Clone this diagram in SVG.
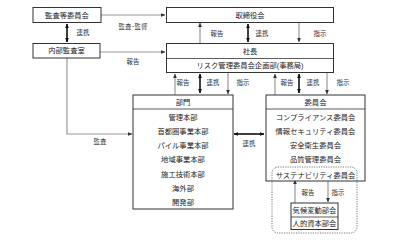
<svg xmlns="http://www.w3.org/2000/svg" width="399" height="245" viewBox="0 0 399 245">
<defs>
<marker id="ag" viewBox="0 0 6 6" refX="5.5" refY="3" markerWidth="4" markerHeight="4" orient="auto-start-reverse"><path d="M0,0.5 L6,3 L0,5.5 Z" fill="#333"/></marker>
<marker id="ab" viewBox="0 0 6 6" refX="5.5" refY="3" markerWidth="3" markerHeight="3" orient="auto-start-reverse"><path d="M0,0.5 L6,3 L0,5.5 Z" fill="#111"/></marker>
<style>
.box{fill:#fff;stroke:#333;stroke-width:1}
.div{stroke:#333;stroke-width:0.8}
.t{font-family:"Liberation Sans","Noto Sans CJK JP",sans-serif;font-size:7.3px;fill:#222;text-anchor:middle}
.l{font-family:"Liberation Sans","Noto Sans CJK JP",sans-serif;font-size:6.4px;fill:#333;text-anchor:middle}
.g{stroke:#999;stroke-width:1.2;fill:none}
.k{stroke:#111;stroke-width:1.6;fill:none}
</style>
</defs>
<rect width="399" height="245" fill="#fff"/>
<g id="connectors">
<path class="g" d="M101,15 H165" marker-end="url(#ag)"/>
<path class="k" d="M67,24 V42" marker-start="url(#ab)" marker-end="url(#ab)"/>
<path class="g" d="M100,52 H165" marker-end="url(#ag)"/>
<path class="g" d="M67,58 V134 H132" marker-end="url(#ag)"/>
<path class="g" d="M200,43 V23" marker-end="url(#ag)"/>
<path class="k" d="M248,24 V42" marker-start="url(#ab)" marker-end="url(#ab)"/>
<path class="g" d="M299,22 V42" marker-end="url(#ag)"/>
<path class="g" d="M175,95 V74" marker-end="url(#ag)"/>
<path class="k" d="M200,74 V93" marker-start="url(#ab)" marker-end="url(#ab)"/>
<path class="g" d="M228,72 V94" marker-end="url(#ag)"/>
<path class="g" d="M275,95 V74" marker-end="url(#ag)"/>
<path class="k" d="M299,74 V93" marker-start="url(#ab)" marker-end="url(#ab)"/>
<path class="g" d="M327,72 V94" marker-end="url(#ag)"/>
<path class="k" d="M234,134 H264" marker-start="url(#ab)" marker-end="url(#ab)"/>
<path class="g" d="M295,203 V180" marker-end="url(#ag)"/>
<path class="g" d="M328,179 V202" marker-end="url(#ag)"/>
<text class="l" x="133" y="29">監査･監督</text>
<text class="l" x="83" y="35">連携</text>
<text class="l" x="133" y="64">報告</text>
<text class="l" x="100" y="144">監査</text>
<text class="l" x="217" y="36">報告</text>
<text class="l" x="262" y="36">連携</text>
<text class="l" x="320" y="36">指示</text>
<text class="l" x="183" y="85">報告</text>
<text class="l" x="213" y="85">連携</text>
<text class="l" x="243" y="85">指示</text>
<text class="l" x="287" y="85">報告</text>
<text class="l" x="313" y="85">連携</text>
<text class="l" x="343" y="85">指示</text>
<text class="l" x="249" y="146">連携</text>
<text class="l" x="308" y="195">報告</text>
<text class="l" x="338" y="195">指示</text>
</g>
<g id="kansa-iinkai">
<rect class="box" x="33" y="7.5" width="68" height="15"/>
<text class="t" x="67" y="17.6">監査等委員会</text>
</g>
<g id="naibu-kansa">
<rect class="box" x="33" y="43.5" width="67" height="14.5"/>
<text class="t" x="66.5" y="53.4">内部監査室</text>
</g>
<g id="torishimariyakukai">
<rect class="box" x="166.5" y="7.5" width="167" height="15"/>
<text class="t" x="250" y="17.6">取締役会</text>
</g>
<g id="shacho">
<rect class="box" x="166.5" y="43.5" width="167" height="29"/>
<line class="div" x1="166.5" y1="58.5" x2="333.5" y2="58.5"/>
<text class="t" x="250" y="53.6">社長</text>
<text class="t" x="250" y="68">リスク管理委員会企画部(事務局)</text>
</g>
<g id="bumon">
<rect class="box" x="133" y="95" width="100" height="114"/>
<line class="div" x1="133" y1="109" x2="233" y2="109"/>
<text class="t" x="183" y="104.5">部門</text>
<text class="t" x="183" y="119.5">管理本部</text>
<text class="t" x="183" y="133.8">首都圏事業本部</text>
<text class="t" x="183" y="148">パイル事業本部</text>
<text class="t" x="183" y="162.2">地域事業本部</text>
<text class="t" x="183" y="176.5">施工技術本部</text>
<text class="t" x="183" y="190.8">海外部</text>
<text class="t" x="183" y="205">開発部</text>
</g>
<g id="iinkai">
<rect class="box" x="266" y="95" width="99" height="86"/>
<line class="div" x1="266" y1="109" x2="365" y2="109"/>
<text class="t" x="315.5" y="104.5">委員会</text>
<text class="t" x="315.5" y="119.5">コンプライアンス委員会</text>
<text class="t" x="315.5" y="133.8">情報セキュリティ委員会</text>
<text class="t" x="315.5" y="148">安全衛生委員会</text>
<text class="t" x="315.5" y="162.2">品質管理委員会</text>
</g>
<g id="sustainability">
<rect x="272" y="167" width="85" height="66" rx="6" fill="none" stroke="#555" stroke-width="0.8" stroke-dasharray="1.2,1.2"/>
<text class="t" x="315.5" y="177.5">サステナビリティ委員会</text>
</g>
<g id="bukai">
<rect class="box" x="291" y="203" width="47" height="26.5" stroke="#555"/>
<line class="div" x1="291" y1="217" x2="338" y2="217"/>
<text class="t" x="314.5" y="212.5">気候変動部会</text>
<text class="t" x="314.5" y="226">人的資本部会</text>
</g>
</svg>
